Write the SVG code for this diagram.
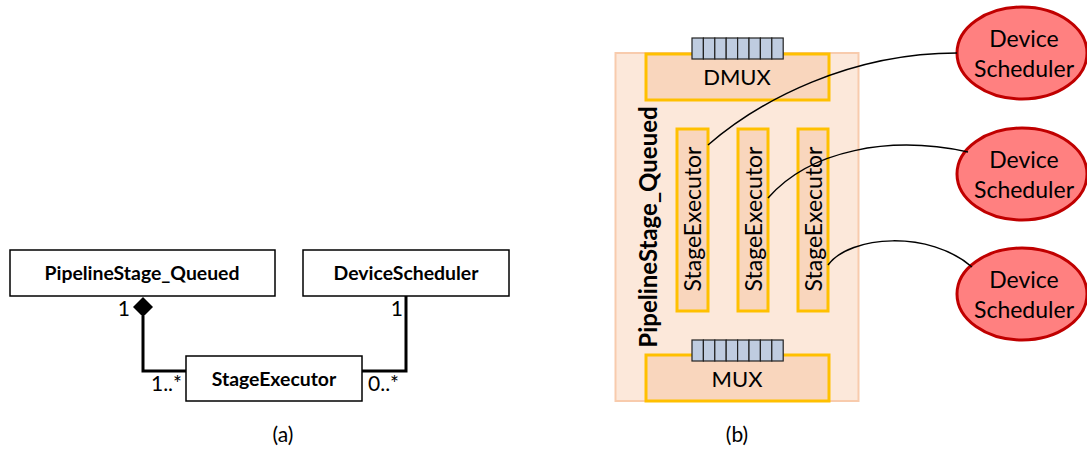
<svg xmlns="http://www.w3.org/2000/svg" width="1087" height="459" viewBox="0 0 1087 459">
<style>
text{font-family:Lato,"Liberation Sans",sans-serif;fill:#000}
.uml{fill:#fff;stroke:#000;stroke-width:1.5}
.b{font-weight:bold;font-size:19.4px}
.m{font-size:21px}
.assoc{fill:none;stroke:#000;stroke-width:3}
.blk{fill:#F9D6BD;stroke:#FFC000;stroke-width:3}
.q{fill:#BFCCE0;stroke:#222;stroke-width:1.2}
.ds{fill:#FF8080;stroke:#C00000;stroke-width:3}
.t22{font-size:22px}
.t23{font-size:23px}
.wire{fill:none;stroke:#000;stroke-width:1.5}
</style>
<g id="pipelineStage_a">
<rect class="uml" x="10" y="250" width="265" height="46"/>
<text class="b" x="142" y="280" text-anchor="middle">PipelineStage_Queued</text>
</g>
<g id="deviceScheduler_a">
<rect class="uml" x="303" y="250" width="206" height="46"/>
<text class="b" x="406" y="280" text-anchor="middle">DeviceScheduler</text>
</g>
<g id="stageExecutor_a">
<rect class="uml" x="186" y="356" width="176" height="45"/>
<text class="b" x="274" y="386" text-anchor="middle">StageExecutor</text>
</g>
<g id="connectors_a">
<polyline class="assoc" points="143,316 143,371 186,371"/>
<polygon points="143,297 153,307 143,317 133,307" fill="#000"/>
<polyline class="assoc" points="406,296 406,371 362,371"/>
<text class="m" x="130" y="316" text-anchor="end">1</text>
<text class="m" x="403" y="316" text-anchor="end">1</text>
<text class="m" x="182" y="391" text-anchor="end">1..*</text>
<text class="m" x="368" y="391">0..*</text>
</g>
<text class="m" x="283" y="442" text-anchor="middle">(a)</text>

<g id="pipelineStage_b">
<rect x="615.5" y="53" width="243" height="348" fill="#FCE8DA" stroke="#F8CBAD" stroke-width="2"/>
<text transform="translate(657,227) rotate(-90)" text-anchor="middle" font-weight="bold" font-size="24">PipelineStage_Queued</text>
</g>
<g id="dmux">
<rect class="blk" x="646" y="54" width="183" height="46"/>
<text class="t22" x="737" y="85" text-anchor="middle">DMUX</text>
<g class="q">
<rect x="692" y="38" width="11.4" height="21"/><rect x="703.4" y="38" width="11.4" height="21"/><rect x="714.8" y="38" width="11.4" height="21"/><rect x="726.2" y="38" width="11.4" height="21"/><rect x="737.6" y="38" width="11.4" height="21"/><rect x="749" y="38" width="11.4" height="21"/><rect x="760.4" y="38" width="11.4" height="21"/><rect x="771.8" y="38" width="11.4" height="21"/>
</g>
</g>
<g id="mux">
<rect class="blk" x="646" y="355" width="183" height="46"/>
<text class="t22" x="737" y="387" text-anchor="middle">MUX</text>
<g class="q">
<rect x="692" y="340" width="11.4" height="21"/><rect x="703.4" y="340" width="11.4" height="21"/><rect x="714.8" y="340" width="11.4" height="21"/><rect x="726.2" y="340" width="11.4" height="21"/><rect x="737.6" y="340" width="11.4" height="21"/><rect x="749" y="340" width="11.4" height="21"/><rect x="760.4" y="340" width="11.4" height="21"/><rect x="771.8" y="340" width="11.4" height="21"/>
</g>
</g>
<g id="stageExecutor1">
<rect class="blk" x="677" y="129" width="31" height="182"/>
<text class="t23" transform="translate(701,219) rotate(-90)" text-anchor="middle">StageExecutor</text>
</g>
<g id="stageExecutor2">
<rect class="blk" x="738" y="129" width="30" height="182"/>
<text class="t23" transform="translate(762,219) rotate(-90)" text-anchor="middle">StageExecutor</text>
</g>
<g id="stageExecutor3">
<rect class="blk" x="798" y="129" width="30" height="182"/>
<text class="t23" transform="translate(822,219) rotate(-90)" text-anchor="middle">StageExecutor</text>
</g>
<g id="deviceScheduler1">
<ellipse class="ds" cx="1022" cy="53" rx="65" ry="46"/>
<text class="t23" x="1024" y="47" text-anchor="middle">Device</text>
<text class="t23" x="1024" y="77" text-anchor="middle">Scheduler</text>
</g>
<g id="deviceScheduler2">
<ellipse class="ds" cx="1022" cy="174" rx="65" ry="46"/>
<text class="t23" x="1024" y="168" text-anchor="middle">Device</text>
<text class="t23" x="1024" y="198" text-anchor="middle">Scheduler</text>
</g>
<g id="deviceScheduler3">
<ellipse class="ds" cx="1022" cy="294" rx="65" ry="46"/>
<text class="t23" x="1024" y="288" text-anchor="middle">Device</text>
<text class="t23" x="1024" y="318" text-anchor="middle">Scheduler</text>
</g>
<g id="connectors_b">
<path class="wire" d="M708,145 C760,100 850,53 957,53"/>
<path class="wire" d="M768,198 C810,150 890,135 968,152"/>
<path class="wire" d="M828,265 C850,235 930,230 972,267"/>
</g>
<text class="m" x="737" y="442" text-anchor="middle">(b)</text>
</svg>
